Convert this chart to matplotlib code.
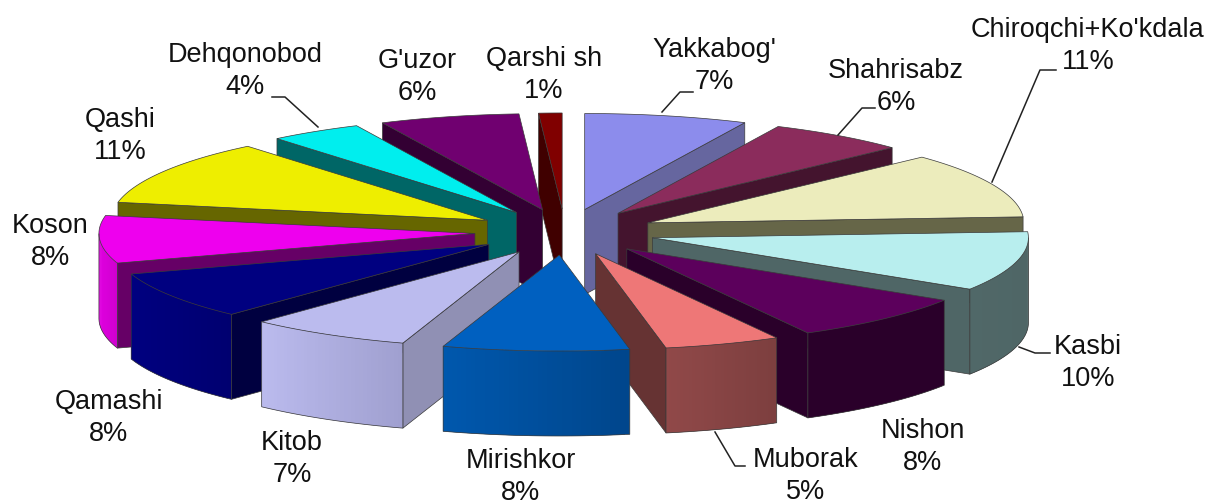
import numpy as np
import matplotlib
matplotlib.use('Agg')
import matplotlib.pyplot as plt

# district shares in percent, clockwise from 12 o'clock
names = ["Yakkabog'", "Shahrisabz", "Chiroqchi+Ko'kdala", "Kasbi", "Nishon", "Muborak", "Mirishkor",
         "Kitob", "Qamashi", "Koson", "Qashi", "Dehqonobod", "G'uzor", "Qarshi sh"]
shares = [7, 6, 11, 10, 8, 5, 8, 7, 8, 8, 11, 4, 6, 1]

top_colors = ['#8C8CEC', '#8B2C5C', '#ECECBC', '#B8EEEE', '#5C005C', '#EE7777', '#0060C0',
              '#BBBBEE', '#000080', '#EE00EE', '#EEEE00', '#00EEEE', '#700070', '#800000']
side_colors = ['#66669F', '#44142E', '#666648', '#4F6666', '#2A002A', '#663333', '#004488',
               '#9090B4', '#000040', '#660066', '#666600', '#006666', '#330033', '#400000']
# outer wall colours, left end and right end of the arc
wall_left = ['#66669F', '#44142E', '#666648', '#506868', '#2A002A', '#914949', '#0058AE',
             '#BBBBEE', '#000080', '#E000E0', '#666600', '#006666', '#330033', '#400000']
wall_right = ['#66669F', '#44142E', '#666648', '#4F6666', '#2A002A', '#7D3F3F', '#00468C',
              '#A0A0D0', '#000070', '#D000D0', '#666600', '#006666', '#330033', '#400000']

label_pos = [(714, 66), (896, 87), (1088, 46), (1088, 363), (923, 447), (806, 476), (521, 477),
             (292, 459), (109, 418), (50, 242), (120, 136), (245, 71), (417, 77), (544, 75)]
leaders = [[(693, 92), (680, 92), (662, 112)],
           [(875, 108), (862, 108), (838, 135)],
           [(1056, 70), (1040, 70), (992, 182)],
           [(1050, 353), (1035, 353), (1019, 347)],
           [(745, 466), (735, 466), (715, 432)],
           [(272, 97), (285, 97), (318, 127)]]

cx, cy = 565, 232
rx, ry = 376, 96
explode = 0.24
depth = 85
edge = '#3A3A3A'


def hex2rgb(h):
    return np.array(matplotlib.colors.to_rgb(h))


fig = plt.figure(figsize=(12.08, 5.04), dpi=100)
ax = fig.add_axes([0, 0, 1, 1])
ax.set_xlim(0, 1208)
ax.set_ylim(504, 0)
ax.axis('off')

fracs = np.array(shares) / sum(shares) * 2 * np.pi
ends = np.cumsum(fracs)
starts = ends - fracs
mids = (starts + ends) / 2

# back slices first so the front ones paint over them
order = np.argsort(-np.cos(mids))
for i in order:
    ox = explode * rx * np.sin(mids[i])
    oy = -explode * ry * np.cos(mids[i])
    th = np.linspace(starts[i], ends[i], 40)
    arc_x = cx + ox + rx * np.sin(th)
    arc_y = cy + oy - ry * np.cos(th)
    apex = (cx + ox, cy + oy)

    # radial walls, only the ones facing the viewer
    for (x0, y0), (x1, y1) in [(apex, (arc_x[0], arc_y[0])), ((arc_x[-1], arc_y[-1]), apex)]:
        if x1 < x0:
            ax.fill([x0, x1, x1, x0], [y0, y1, y1 + depth, y0 + depth],
                    facecolor=side_colors[i], edgecolor=edge, lw=0.5)

    # outer wall in small quads to get the gradient, each one overlaps the next to hide seams
    left = hex2rgb(wall_left[i])
    right = hex2rgb(wall_right[i])
    xspan = max(arc_x.max() - arc_x.min(), 1)
    vis = np.where(arc_x[1:] < arc_x[:-1])[0]
    for j in vis:
        k = min(j + 2, vis[-1] + 1)
        t = (arc_x[j] - arc_x.min()) / xspan
        ax.fill([arc_x[j], arc_x[k], arc_x[k], arc_x[j]],
                [arc_y[j], arc_y[k], arc_y[k] + depth, arc_y[j] + depth],
                color=left + (right - left) * t, lw=0)
    if len(vis):
        v = np.r_[vis, vis[-1] + 1]
        ax.plot(np.r_[arc_x[v[0]], arc_x[v], arc_x[v[-1]]],
                np.r_[arc_y[v[0]], arc_y[v] + depth, arc_y[v[-1]]],
                color=edge, lw=0.5)

    ax.fill(np.r_[apex[0], arc_x], np.r_[apex[1], arc_y],
            facecolor=top_colors[i], edgecolor=edge, lw=0.5)

for line in leaders:
    ax.plot([p[0] for p in line], [p[1] for p in line], color='#222222', lw=1.1)

for name, share, (lx, ly) in zip(names, shares, label_pos):
    ax.text(lx, ly, f"{name}\n{share}%", ha='center', va='center', fontsize=19.5,
            family='Liberation Sans', color='#111111', linespacing=1.32)

fig.savefig('out.png', dpi=100)
